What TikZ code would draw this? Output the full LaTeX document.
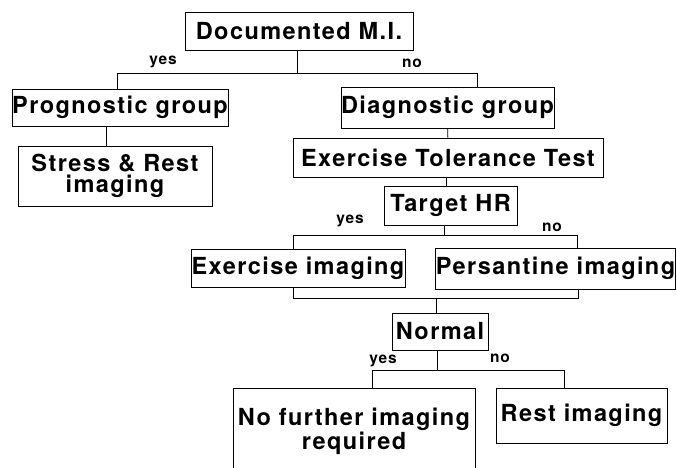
\documentclass[tikz,border=0pt]{standalone}
\usepackage{fontspec}
\setmainfont{TeX Gyre Heros}[LetterSpace=6]
\usetikzlibrary{positioning}

\tikzset{
	box/.style={draw, line width=0.9pt, inner sep=0pt, align=center,
		font=\bfseries\fontsize{23.5}{20.5}\selectfont},
	lbl/.style={inner sep=0pt, font=\bfseries\fontsize{15.5}{15.5}\selectfont},
	wire/.style={line width=0.9pt}
}

\begin{document}
\begin{tikzpicture}[x=1pt, y=-1pt]
			%%%%% START %%%%%
			\useasboundingbox (0, 0) rectangle (677, 467);
			\clip (0, 0) rectangle (677, 467);
			
			\node[box, minimum width=228, minimum height=38] (dmi) at (299, 31) {Documented M.I.};
			\node[box, minimum width=216, minimum height=37] (prog) at (120, 107.5) {Prognostic group};
			\node[box, minimum width=194, minimum height=60] (sri) at (115, 176) {Stress \& Rest\\imaging};
			\node[box, minimum width=211, minimum height=41] (diag) at (447.5, 107.5) {Diagnostic group};
			\node[box, minimum width=310, minimum height=39] (ett) at (448, 157.5) {Exercise Tolerance Test};
			\node[box, minimum width=133, minimum height=39] (thr) at (450.5, 205.5) {Target HR};
			\node[box, minimum width=214, minimum height=38] (exi) at (298, 268) {Exercise imaging};
			\node[box, minimum width=233, minimum height=41] (pers) at (555.5, 268.5) {Persantine imaging};
			\node[box, minimum width=96, minimum height=37] (nrm) at (440, 331.5) {Normal};
			\node[box, minimum width=242, minimum height=86] (nfi) at (354, 431) {No further imaging\\required};
			\node[box, minimum width=171, minimum height=55] (rest) at (581.5, 415.5) {Rest imaging};
			
			\node[lbl] (yes1) at (163, 62) {yes};
			\node[lbl] (no1) at (412, 63) {no};
			\node[lbl] (yes2) at (350, 221) {yes};
			\node[lbl] (no2) at (552, 227) {no};
			\node[lbl] (yes3) at (383, 361) {yes};
			\node[lbl] (no3) at (500, 358) {no};
			
			\coordinate (j1) at (297, 73);
			\coordinate (j1y) at (117, 73);
			\coordinate (j1n) at (477, 73);
			\draw[wire] (dmi.south -| j1) -- (j1);
			\draw[wire] (prog.north -| j1y) -- (j1y) -- (j1n) -- (diag.north -| j1n);
			
			\draw[wire] ([xshift=-14pt]prog.south) -- ([xshift=-9pt]sri.north);
			\draw[wire] (diag) -- (ett);
			\draw[wire] ([xshift=-2pt]ett.south) -- ([xshift=-4.5pt]thr.north);
			
			\coordinate (j3) at (444, 235);
			\coordinate (j3y) at (293, 235);
			\coordinate (j3n) at (577, 235);
			\draw[wire] (thr.south -| j3) -- (j3);
			\draw[wire] (exi.north -| j3y) -- (j3y) -- (j3n) -- (pers.north -| j3n);
			
			\coordinate (m1) at (436, 298);
			\coordinate (m1y) at (293, 298);
			\coordinate (m1n) at (578, 298);
			\draw[wire] (exi.south -| m1y) -- (m1y) -- (m1n) -- (pers.south -| m1n);
			\draw[wire] (m1) -- (nrm.north -| m1);
			
			\coordinate (j4) at (437, 370);
			\coordinate (j4y) at (372, 370);
			\coordinate (j4n) at (564, 370);
			\draw[wire] (nrm.south -| j4) -- (j4);
			\draw[wire] (nfi.north -| j4y) -- (j4y) -- (j4n) -- (rest.north -| j4n);
			%%%%% END %%%%%
\end{tikzpicture}
\end{document}
